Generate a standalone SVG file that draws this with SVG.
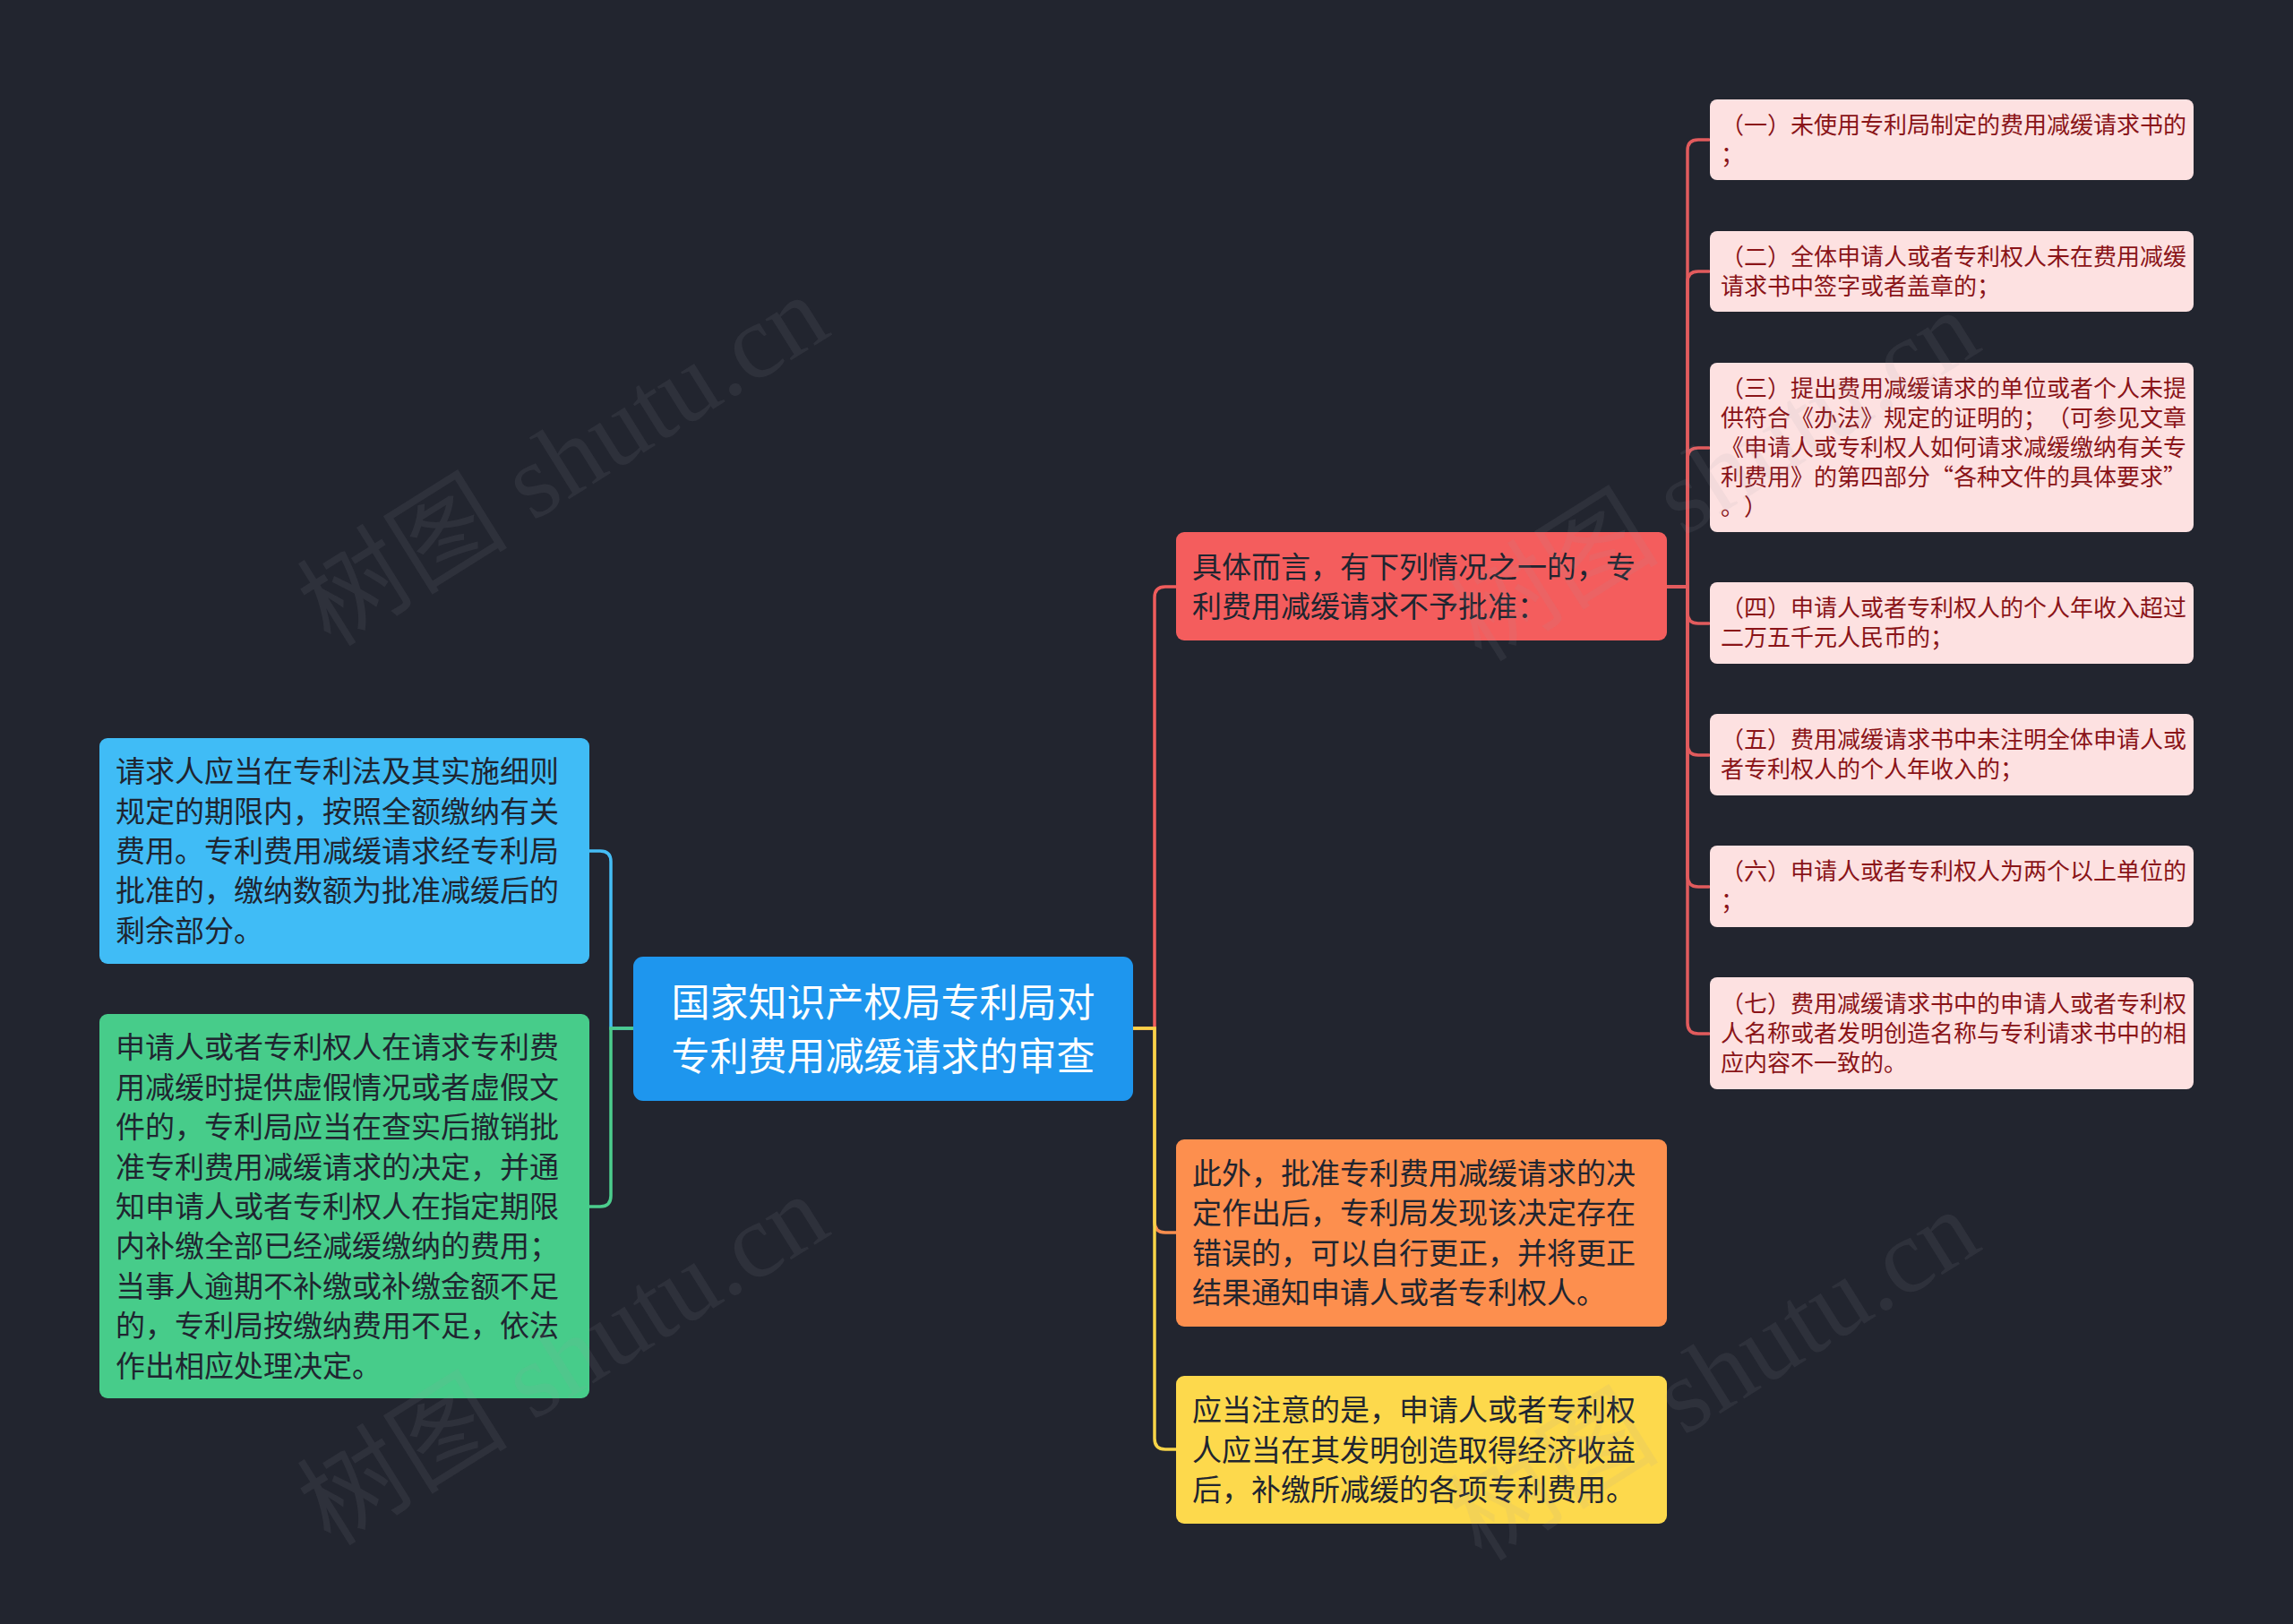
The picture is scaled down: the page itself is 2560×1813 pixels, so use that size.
<svg xmlns="http://www.w3.org/2000/svg" width="2560" height="1813" viewBox="0 0 2560 1813">
<style>
.bg{fill:#22252f}
.t{font-family:"Noto Sans CJK SC","Noto Sans",sans-serif;text-spacing-trim:space-all;font-feature-settings:"chws" 0,"halt" 0,"palt" 0}
.root{fill:#1e96ee}
.rootT{font-size:43px;fill:#ffffff;text-anchor:middle}
.l1{font-size:33px;fill:#1f2530}
.pk{fill:#fde1e1}
.pkT{font-size:26px;fill:#8a1418}
.c{fill:none;stroke-width:3.5;stroke-linecap:round}
.wm{font-family:"Liberation Serif","Noto Sans CJK SC",serif;font-size:118px;fill:#9a9aa6;fill-opacity:0.1;text-anchor:middle}
</style>
<rect class="bg" x="0" y="0" width="2560" height="1813"/>

<g id="connectors">
  <path class="c" stroke="#45bdf5" d="M707,1148 H682 V962 Q682,950 670,950 H658"/>
  <path class="c" stroke="#4ccd8d" d="M707,1148 H682 V1335 Q682,1347 670,1347 H658"/>
  <path class="c" stroke="#ef5c5c" d="M1265,1148 H1289 V667 Q1289,655 1301,655 H1313"/>
  <path class="c" stroke="#f98e4e" d="M1265,1148 H1289 V1364 Q1289,1376 1301,1376 H1313"/>
  <path class="c" stroke="#f7d448" d="M1265,1148 H1289 V1606 Q1289,1618 1301,1618 H1313"/>
  <g stroke="#e25b5d">
    <path class="c" d="M1861,655 H1884 V168 Q1884,156 1896,156 H1908"/>
    <path class="c" d="M1861,655 H1884 V315 Q1884,303 1896,303 H1908"/>
    <path class="c" d="M1861,655 H1884 V512 Q1884,500 1896,500 H1908"/>
    <path class="c" d="M1861,655 H1884 V684 Q1884,696 1896,696 H1908"/>
    <path class="c" d="M1861,655 H1884 V831 Q1884,843 1896,843 H1908"/>
    <path class="c" d="M1861,655 H1884 V978 Q1884,990 1896,990 H1908"/>
    <path class="c" d="M1861,655 H1884 V1142 Q1884,1154 1896,1154 H1908"/>
  </g>
</g>

<g id="root">
  <rect class="root" x="707" y="1068" width="558" height="161" rx="11"/>
  <text class="t rootT"><tspan x="986" y="1135">国家知识产权局专利局对</tspan><tspan x="986" y="1195">专利费用减缓请求的审查</tspan></text>
</g>

<g id="n-left1">
  <rect x="111" y="824" width="547" height="252" rx="9" fill="#40bcf6"/>
  <text class="t l1" x="129" y="873">请求人应当在专利法及其实施细则</text>
  <text class="t l1" x="129" y="918">规定的期限内，按照全额缴纳有关</text>
  <text class="t l1" x="129" y="962">费用。专利费用减缓请求经专利局</text>
  <text class="t l1" x="129" y="1006">批准的，缴纳数额为批准减缓后的</text>
  <text class="t l1" x="129" y="1051">剩余部分。</text>
</g>

<g id="n-left2">
  <rect x="111" y="1132" width="547" height="429" rx="9" fill="#47cc8a"/>
  <text class="t l1" x="129" y="1181">申请人或者专利权人在请求专利费</text>
  <text class="t l1" x="129" y="1226">用减缓时提供虚假情况或者虚假文</text>
  <text class="t l1" x="129" y="1270">件的，专利局应当在查实后撤销批</text>
  <text class="t l1" x="129" y="1315">准专利费用减缓请求的决定，并通</text>
  <text class="t l1" x="129" y="1359">知申请人或者专利权人在指定期限</text>
  <text class="t l1" x="129" y="1403">内补缴全部已经减缓缴纳的费用；</text>
  <text class="t l1" x="129" y="1448">当事人逾期不补缴或补缴金额不足</text>
  <text class="t l1" x="129" y="1492">的，专利局按缴纳费用不足，依法</text>
  <text class="t l1" x="129" y="1537">作出相应处理决定。</text>
</g>

<g id="n-red">
  <rect x="1313" y="594" width="548" height="121" rx="9" fill="#f45d5d"/>
  <text class="t l1" x="1331" y="645">具体而言，有下列情况之一的，专</text>
  <text class="t l1" x="1331" y="689">利费用减缓请求不予批准：</text>
</g>

<g id="n-orange">
  <rect x="1313" y="1272" width="548" height="209" rx="9" fill="#fd8f4e"/>
  <text class="t l1" x="1331" y="1322">此外，批准专利费用减缓请求的决</text>
  <text class="t l1" x="1331" y="1366">定作出后，专利局发现该决定存在</text>
  <text class="t l1" x="1331" y="1411">错误的，可以自行更正，并将更正</text>
  <text class="t l1" x="1331" y="1455">结果通知申请人或者专利权人。</text>
</g>

<g id="n-yellow">
  <rect x="1313" y="1536" width="548" height="165" rx="9" fill="#fdd94c"/>
  <text class="t l1" x="1331" y="1586">应当注意的是，申请人或者专利权</text>
  <text class="t l1" x="1331" y="1631">人应当在其发明创造取得经济收益</text>
  <text class="t l1" x="1331" y="1675">后，补缴所减缓的各项专利费用。</text>
</g>

<g id="p1">
  <rect class="pk" x="1909" y="111" width="540" height="90" rx="8"/>
  <text class="t pkT" x="1921" y="149">（一）未使用专利局制定的费用减缓请求书的</text>
  <text class="t pkT" x="1921" y="182">；</text>
</g>
<g id="p2">
  <rect class="pk" x="1909" y="258" width="540" height="90" rx="8"/>
  <text class="t pkT" x="1921" y="296">（二）全体申请人或者专利权人未在费用减缓</text>
  <text class="t pkT" x="1921" y="329">请求书中签字或者盖章的；</text>
</g>
<g id="p3">
  <rect class="pk" x="1909" y="405" width="540" height="189" rx="8"/>
  <text class="t pkT" x="1921" y="443">（三）提出费用减缓请求的单位或者个人未提</text>
  <text class="t pkT" x="1921" y="476">供符合《办法》规定的证明的；（可参见文章</text>
  <text class="t pkT" x="1921" y="509">《申请人或专利权人如何请求减缓缴纳有关专</text>
  <text class="t pkT" x="1921" y="542">利费用》的第四部分“各种文件的具体要求”</text>
  <text class="t pkT" x="1921" y="575">。）</text>
</g>
<g id="p4">
  <rect class="pk" x="1909" y="650" width="540" height="91" rx="8"/>
  <text class="t pkT" x="1921" y="688">（四）申请人或者专利权人的个人年收入超过</text>
  <text class="t pkT" x="1921" y="721">二万五千元人民币的；</text>
</g>
<g id="p5">
  <rect class="pk" x="1909" y="797" width="540" height="91" rx="8"/>
  <text class="t pkT" x="1921" y="835">（五）费用减缓请求书中未注明全体申请人或</text>
  <text class="t pkT" x="1921" y="868">者专利权人的个人年收入的；</text>
</g>
<g id="p6">
  <rect class="pk" x="1909" y="944" width="540" height="91" rx="8"/>
  <text class="t pkT" x="1921" y="982">（六）申请人或者专利权人为两个以上单位的</text>
  <text class="t pkT" x="1921" y="1015">；</text>
</g>
<g id="p7">
  <rect class="pk" x="1909" y="1091" width="540" height="125" rx="8"/>
  <text class="t pkT" x="1921" y="1130">（七）费用减缓请求书中的申请人或者专利权</text>
  <text class="t pkT" x="1921" y="1163">人名称或者发明创造名称与专利请求书中的相</text>
  <text class="t pkT" x="1921" y="1196">应内容不一致的。</text>
</g>

<g id="watermarks">
  <text class="wm" transform="translate(650,548) rotate(-32)">树图 shutu.cn</text>
  <text class="wm" transform="translate(1935,565) rotate(-32)">树图 shutu.cn</text>
  <text class="wm" transform="translate(650,1552) rotate(-32)">树图 shutu.cn</text>
  <text class="wm" transform="translate(1935,1569) rotate(-32)">树图 shutu.cn</text>
</g>
</svg>
